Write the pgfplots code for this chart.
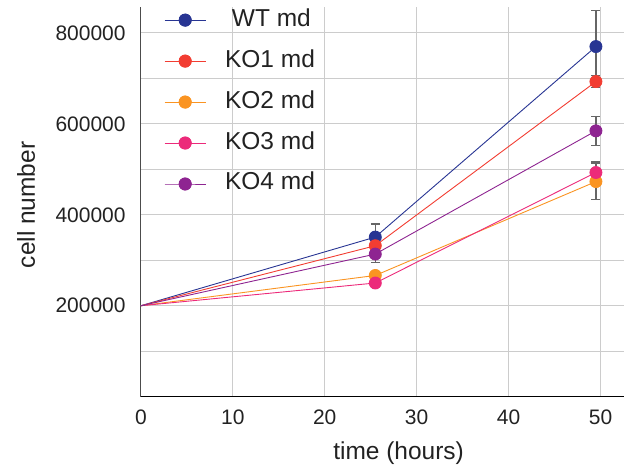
\documentclass[border=0pt]{standalone}
\usepackage{fontspec}
\setmainfont{Liberation Sans}
\usepackage{pgfplots}
\usepackage{pgfplotstable}
\pgfplotsset{compat=1.18}

\definecolor{cWT}{HTML}{283593}
\definecolor{cKO1}{HTML}{F23D32}
\definecolor{cKO2}{HTML}{FA9422}
\definecolor{cKO3}{HTML}{EC2A7A}
\definecolor{cKO4}{HTML}{8E2491}
\definecolor{gridc}{HTML}{CCCCCC}
\definecolor{txt}{HTML}{222222}
\definecolor{errc}{HTML}{666666}

% time, mean, error
\pgfplotstableread{
t y e
0 200000 0
25.5 351000 28600
49.5 770000 80000
}\wt
\pgfplotstableread{
t y e
0 200000 0
25.5 332000 10000
49.5 693000 12500
}\koone
\pgfplotstableread{
t y e
0 200000 0
25.5 266600 8000
49.5 473000 40000
}\kotwo
\pgfplotstableread{
t y e
0 200000 0
25.5 250000 5000
49.5 493000 23000
}\kothree
\pgfplotstableread{
t y e
0 200000 0
25.5 313600 18000
49.5 584600 32000
}\kofour

\pgfplotsset{
  errs/.style={draw=none, forget plot, mark=none,
    error bars/.cd, y dir=both, y explicit,
    error bar style={errc, line width=1.2bp},
    error mark options={rotate=90, errc, mark size=4.5bp, line width=1.2bp}},
  ser/.style={color=#1, line width=0.9bp, mark=*, mark indices={2,3},
    mark size=6bp, mark options={solid, fill=#1, draw=#1}},
}

\begin{document}
\begin{tikzpicture}
\begin{axis}[
  at={(0,0)}, anchor=south west,
  scale only axis, width=483bp, height=390bp,
  xmin=0, xmax=52.5, ymin=0, ymax=857000,
  axis lines=left, axis line style={-},
  x axis line style={black, line width=1bp},
  y axis line style={black!70, line width=1bp},
  xtick={0,10,...,50},
  ytick={200000,400000,600000,800000},
  minor ytick={100000,300000,500000,700000},
  grid=both,
  major grid style={gridc, line width=0.9bp},
  minor grid style={gridc, line width=0.9bp},
  tick style={draw=none},
  scaled y ticks=false,
  /pgf/number format/.cd, fixed, 1000 sep={}, assume math mode=true,
  /pgfplots/.cd,
  tick label style={font=\fontsize{21bp}{25bp}\selectfont, text=txt, inner sep=0pt},
  yticklabel style={xshift=-13bp},
  xticklabel style={yshift=-11bp},
  xlabel={time (hours)}, ylabel={cell number},
  label style={font=\fontsize{24.5bp}{28bp}\selectfont, text=txt},
  xlabel style={at={(axis description cs:0.534,-0.144)}, anchor=center},
  ylabel style={at={(axis description cs:-0.238,0.492)}, anchor=center, rotate=0},
  legend cell align=left,
  % marks sit at the 2nd and 3rd points, both in the middle of the sample
  legend image code/.code={\draw[#1]
    plot coordinates {(0bp,0bp) (20.5bp,0bp) (20.5bp,0bp) (41bp,0bp)};},
  legend style={draw=none, fill=none, at={(axis description cs:0.048,0.995)},
    anchor=north west, inner sep=0pt, row sep=19bp,
    font=\fontsize{24.5bp}{28bp}\selectfont, text=txt,
    nodes={inner sep=0pt, text height=17bp, text depth=5bp},
    /tikz/every odd column/.append style={column sep=19bp}},
]
\addplot[errs] table[x=t, y=y, y error=e, skip first n=1] {\wt};
\addplot[ser=cWT] table[x=t, y=y] {\wt};
\addlegendentry{\ WT md}
\addplot[errs] table[x=t, y=y, y error=e, skip first n=1] {\koone};
\addplot[ser=cKO1] table[x=t, y=y] {\koone};
\addlegendentry{KO1 md}
\addplot[errs] table[x=t, y=y, y error=e, skip first n=1] {\kotwo};
\addplot[ser=cKO2] table[x=t, y=y] {\kotwo};
\addlegendentry{KO2 md}
\addplot[errs] table[x=t, y=y, y error=e, skip first n=1] {\kothree};
\addplot[ser=cKO3] table[x=t, y=y] {\kothree};
\addlegendentry{KO3 md}
\addplot[errs] table[x=t, y=y, y error=e, skip first n=1] {\kofour};
\addplot[ser=cKO4] table[x=t, y=y] {\kofour};
\addlegendentry{KO4 md}
\end{axis}
\path[use as bounding box] (-141bp,-74bp) rectangle (483bp,397bp);
\end{tikzpicture}
\end{document}
